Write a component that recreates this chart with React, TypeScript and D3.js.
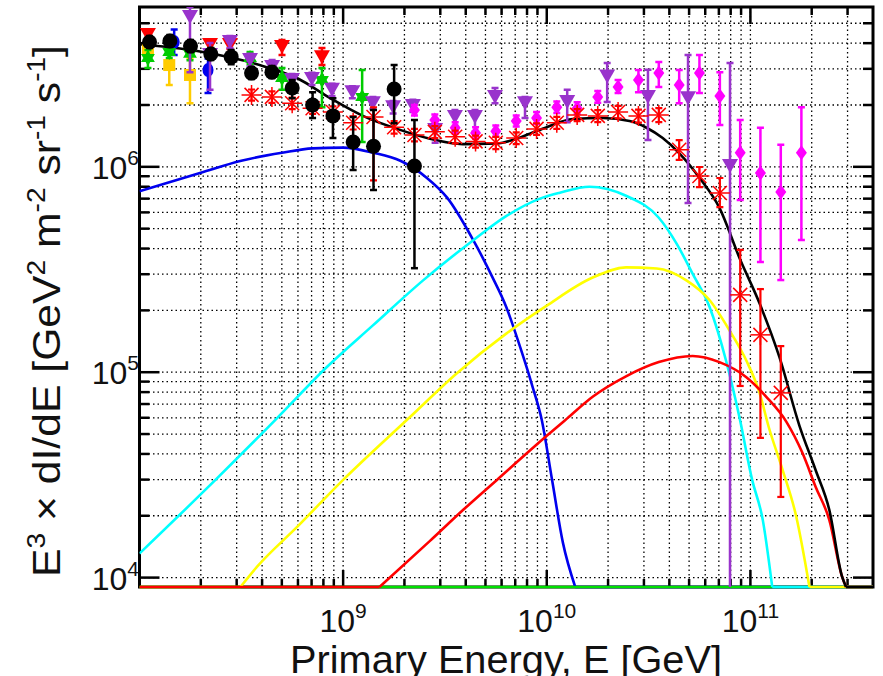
import React from 'react';
import * as d3 from 'd3';

// ---------------- axes ----------------
const xDomain = [1e8, 4e11];
const yDomain = [9e3, 6e6];
const xMajor = [1e9, 1e10, 1e11];
const xMajorExp = ['9', '10', '11'];
const yMajor = [1e4, 1e5, 1e6];
const yMajorExp = ['4', '5', '6'];
const xTitle = 'Primary Energy, E [GeV]';

// ---------------- model curves ----------------
const blueCurveE = [1e8, 2e8, 3.16e8, 5.01e8, 7.08e8, 1e9, 1.41e9, 1.91e9, 2.57e9, 3.24e9, 4.37e9, 5.43e9, 6.31e9, 7.41e9, 8.51e9, 9.44e9, 1.06e10, 1.2e10, 1.38e10, 4e11];
const blueCurveV = [7.6e5, 9.35e5, 1.07e6, 1.17e6, 1.23e6, 1.24e6, 1.17e6, 1.07e6, 8.85e5, 7.08e5, 4.37e5, 2.88e5, 2.09e5, 1.32e5, 8.51e4, 5.89e4, 3.02e4, 1.48e4, 0, 0];

const greenCurveE = [1e8, 4e11];
const greenCurveV = [0, 0];

const cyanCurveE = [1e8, 2.36e8, 4.74e8, 8.32e8, 1.4e9, 2.47e9, 4.34e9, 6.37e9, 9.25e9, 1.16e10, 1.62e10, 2.45e10, 3.55e10, 4.34e10, 5.2e10, 6.31e10, 7.59e10, 8.83e10, 1.02e11, 1.15e11, 1.28e11, 4e11];
const cyanCurveV = [1.31e4, 2.99e4, 5.98e4, 1.06e5, 1.69e5, 2.8e5, 4.38e5, 5.78e5, 7.0e5, 7.48e5, 8.0e5, 7.23e5, 5.65e5, 4.23e5, 3.02e5, 2.07e5, 1.14e5, 6.05e4, 2.99e4, 1.91e4, 0, 0];

const yellowCurveE = [1e8, 3.13e8, 3.78e8, 5.96e8, 1e9, 2.13e9, 3.62e9, 6.37e9, 1e10, 1.68e10, 2.45e10, 3.47e10, 4.85e10, 6.31e10, 7.89e10, 9.55e10, 1.11e11, 1.23e11, 1.44e11, 1.68e11, 1.95e11, 4e11];
const yellowCurveV = [0, 0, 1.13e4, 1.77e4, 2.99e4, 6.05e4, 9.89e4, 1.55e5, 2.11e5, 2.89e5, 3.24e5, 3.2e5, 2.8e5, 2.24e5, 1.6e5, 1.14e5, 7.91e4, 5.41e4, 3.34e4, 1.98e4, 0, 0];

const redCurveE = [1e8, 1.51e9, 2.67e9, 3.89e9, 5.69e9, 1e10, 1.26e10, 1.68e10, 2.45e10, 3.55e10, 5.2e10, 7.05e10, 9.55e10, 1.2e11, 1.5e11, 1.8e11, 2.09e11, 2.44e11, 2.82e11, 2.95e11, 4e11];
const redCurveV = [0, 0, 1.51e4, 2.14e4, 2.99e4, 4.9e4, 5.96e4, 7.59e4, 9.55e4, 1.12e5, 1.2e5, 1.12e5, 9.46e4, 7.57e4, 5.75e4, 4.05e4, 2.77e4, 1.91e4, 1.01e4, 0, 0];

const totalCurveE = [1e8, 1.92e8, 4.06e8, 5.96e8, 8.63e8, 1.25e9, 1.84e9, 2.67e9, 3.87e9, 5.69e9, 6.81e9, 8.26e9, 1e10, 1.34e10, 1.88e10, 2.55e10, 3.09e10, 3.71e10, 4.49e10, 5.62e10, 7.05e10, 8.83e10, 1.11e11, 1.39e11, 1.74e11, 2.09e11, 2.44e11, 2.82e11, 2.95e11, 4e11];
const totalCurveV = [3.95e6, 3.66e6, 3.09e6, 2.7e6, 2.16e6, 1.77e6, 1.53e6, 1.37e6, 1.29e6, 1.3e6, 1.35e6, 1.45e6, 1.56e6, 1.71e6, 1.73e6, 1.67e6, 1.55e6, 1.38e6, 1.16e6, 8.85e5, 6.31e5, 3.61e5, 2.16e5, 1.18e5, 5.5e4, 3.34e4, 2.14e4, 1.01e4, 0, 0];

// ---------------- measured points ----------------
const goldE = [1.1e8, 1.4e8, 1.77e8];
const goldV = [3.7e6, 3.13e6, 2.8e6];
const goldHi = [3.92e6, 3.7e6, 3.37e6];
const goldLo = [3.43e6, 2.5e6, 2.04e6];

const bluePtE = [1.48e8, 2.17e8];
const bluePtV = [4.05e6, 2.96e6];
const bluePtHi = [4.66e6, 3.37e6];
const bluePtLo = [3.5e6, 2.29e6];

const greenPtE = [1.1e8, 1.4e8, 1.77e8, 3.49e8, 5.01e8, 7.87e8, 1.24e9];
const greenPtV = [3.39e6, 3.62e6, 3.55e6, 3.39e6, 2.71e6, 2.65e6, 2.19e6];
const greenPtHi = [3.7e6, 3.92e6, 3.8e6, 3.62e6, 3.03e6, 3.03e6, 2.96e6];
const greenPtLo = [3.03e6, 3.39e6, 3.3e6, 3.16e6, 2.37e6, 1.95e6, 1.32e6];

const redTriE = [1.1e8, 2.22e8, 2.78e8, 5.01e8, 7.87e8];
const redTriV = [4.38e6, 3.92e6, 3.92e6, 3.83e6, 3.42e6];
const redTriHi = [4.6e6, 4.14e6, 4.1e6, 4.14e6, 3.79e6];
const redTriLo = [4.15e6, 3.7e6, 3.75e6, 3.5e6, 3.13e6];

const purpleE = [1.77e8, 2.22e8, 2.78e8, 3.49e8, 4.48e8, 5.61e8, 7.03e8, 8.82e8, 1.11e9, 1.4e9, 1.76e9, 2.2e9, 2.83e9, 3.54e9, 4.44e9, 5.57e9, 7.82e9, 1.26e10, 1.98e10, 3.14e10, 4.94e10, 7.94e10];
const purpleV = [5.36e6, 3.5e6, 4.05e6, 3.31e6, 3.06e6, 2.65e6, 2.68e6, 2.37e6, 2.31e6, 2.04e6, 1.95e6, 1.98e6, 1.51e6, 1.75e6, 1.75e6, 2.19e6, 2.04e6, 2.07e6, 2.75e6, 2.19e6, 2.16e6, 1.01e6];
const purpleHi = [6.5e6, 4.01e6, 4.33e6, 3.55e6, 3.31e6, 2.83e6, 2.87e6, 2.54e6, 2.47e6, 2.19e6, 2.09e6, 2.12e6, 1.69e6, 1.89e6, 1.89e6, 2.42e6, 2.19e6, 2.37e6, 3.2e6, 2.97e6, 3.5e6, 3.2e6];
const purpleLo = [2.89e6, 2.37e6, 3.79e6, 3.08e6, 2.86e6, 2.47e6, 2.5e6, 2.21e6, 2.16e6, 1.91e6, 1.82e6, 1.85e6, 1.31e6, 1.48e6, 1.48e6, 2.04e6, 1.73e6, 1.65e6, 2.07e6, 1.35e6, 6.66e5, 0];

const magE = [2.24e9, 2.82e9, 3.55e9, 4.47e9, 5.62e9, 7.08e9, 8.91e9, 1.12e10, 1.41e10, 1.78e10, 2.24e10, 2.82e10, 3.55e10, 4.47e10, 5.62e10, 7.08e10, 8.91e10, 1.12e11, 1.41e11, 1.78e11];
const magV = [1.89e6, 1.69e6, 1.55e6, 1.46e6, 1.49e6, 1.67e6, 1.73e6, 1.95e6, 1.93e6, 2.19e6, 2.45e6, 2.65e6, 2.86e6, 2.5e6, 2.86e6, 2.21e6, 1.17e6, 9.33e5, 7.54e5, 1.17e6];
const magHi = [2.0e6, 1.8e6, 1.65e6, 1.56e6, 1.59e6, 1.78e6, 1.85e6, 2.08e6, 2.06e6, 2.34e6, 2.65e6, 2.96e6, 3.24e6, 2.96e6, 3.5e6, 2.89e6, 1.69e6, 1.55e6, 1.28e6, 1.95e6];
const magLo = [1.78e6, 1.59e6, 1.45e6, 1.37e6, 1.4e6, 1.57e6, 1.62e6, 1.83e6, 1.81e6, 2.05e6, 2.29e6, 2.31e6, 2.45e6, 2.04e6, 2.29e6, 1.6e6, 6.89e5, 3.44e5, 2.81e5, 4.4e5];

const starE = [3.55e8, 4.47e8, 5.62e8, 7.08e8, 8.91e8, 1.12e9, 1.41e9, 1.78e9, 2.24e9, 2.82e9, 3.55e9, 4.47e9, 5.62e9, 7.08e9, 8.91e9, 1.12e10, 1.41e10, 1.78e10, 2.24e10, 2.82e10, 3.55e10, 4.47e10, 5.62e10, 7.08e10, 8.91e10, 1.12e11, 1.41e11];
const starV = [2.24e6, 2.19e6, 2.04e6, 1.93e6, 1.85e6, 1.64e6, 1.75e6, 1.56e6, 1.43e6, 1.48e6, 1.4e6, 1.33e6, 1.31e6, 1.38e6, 1.53e6, 1.64e6, 1.79e6, 1.77e6, 1.85e6, 1.77e6, 1.79e6, 1.21e6, 9.02e5, 7.46e5, 2.38e5, 1.52e5, 7.93e4];
const starHi = [2.38e6, 2.33e6, 2.17e6, 2.05e6, 1.97e6, 1.76e6, 1.95e6, 1.67e6, 1.53e6, 1.58e6, 1.5e6, 1.42e6, 1.4e6, 1.47e6, 1.63e6, 1.75e6, 1.91e6, 1.89e6, 1.98e6, 1.9e6, 1.93e6, 1.35e6, 9.98e5, 8.82e5, 3.94e5, 2.54e5, 1.34e5];
const starLo = [2.1e6, 2.05e6, 1.91e6, 1.81e6, 1.73e6, 1.52e6, 8.6e5, 1.45e6, 1.33e6, 1.38e6, 1.3e6, 1.24e6, 1.22e6, 1.29e6, 1.43e6, 1.53e6, 1.67e6, 1.65e6, 1.72e6, 1.64e6, 1.65e6, 1.08e6, 7.96e5, 6.37e5, 8.57e4, 4.79e4, 2.47e4];

const blackE = [1.12e8, 1.41e8, 1.78e8, 2.24e8, 2.82e8, 3.55e8, 4.47e8, 5.62e8, 7.08e8, 8.91e8, 1.12e9, 1.41e9, 1.78e9, 2.24e9];
const blackV = [4.05e6, 4.1e6, 3.87e6, 3.54e6, 3.43e6, 2.86e6, 2.89e6, 2.42e6, 2.0e6, 1.77e6, 1.32e6, 1.26e6, 2.39e6, 1.01e6];
const blackHi = [4.34e6, 4.38e6, 4.14e6, 3.79e6, 3.7e6, 3.06e6, 3.1e6, 2.65e6, 2.31e6, 2.16e6, 1.75e6, 1.89e6, 3.13e6, 1.69e6];
const blackLo = [3.79e6, 3.83e6, 3.62e6, 3.31e6, 3.16e6, 2.68e6, 2.71e6, 2.16e6, 1.73e6, 1.38e6, 9.65e5, 7.71e5, 1.63e6, 3.21e5];

// ---------------- layout ----------------
const W = 883, H = 676;
const L = 139.5, R = 873, T = 7, B = 587;
const FONT = "Arial, 'Liberation Sans', Helvetica, sans-serif";

const PURPLE = '#9933CC';
const MAGENTA = '#FF00FF';
const GREEN_PT = '#00CC00';
const GOLD = '#FFCC00';

function minorVals(domain: number[]) {
  const out: number[] = [];
  const d0 = Math.floor(Math.log10(domain[0]));
  const d1 = Math.ceil(Math.log10(domain[1]));
  for (let d = d0; d <= d1; d++) {
    for (let m = 1; m <= 9; m++) {
      const v = m * Math.pow(10, d);
      if (v > domain[0] * 1.0001 && v < domain[1] * 0.9999) out.push(v);
    }
  }
  return out;
}

export default function App() {
  const x = d3.scaleLog().domain(xDomain).range([L, R]);
  const yS = d3.scaleLog().domain(yDomain).range([B, T]).clamp(true);
  const y = (v: number) => (v <= yDomain[0] ? B : yS(v));

  // positive runs are drawn smoothly (including the floor crossing points); floor runs are straight
  const mkPaths = (E: number[], V: number[]) => {
    const paths: string[] = [];
    const smooth = d3.line<number>().x((i) => x(E[i])).y((i) => y(V[i])).curve(d3.curveMonotoneX);
    const straight = d3.line<number>().x((i) => x(E[i])).y((i) => y(V[i]));
    let i = 0;
    const n = E.length;
    while (i < n) {
      if (V[i] > 0) {
        let j = i;
        while (j + 1 < n && V[j + 1] > 0) j++;
        const a = i > 0 ? i - 1 : i;
        const b = j < n - 1 ? j + 1 : j;
        const idx: number[] = [];
        for (let k = a; k <= b; k++) idx.push(k);
        paths.push(smooth(idx) || '');
        i = j + 1;
      } else {
        let j = i;
        while (j + 1 < n && V[j + 1] <= 0) j++;
        if (j > i) paths.push(straight([i, j]) || '');
        i = j + 1;
      }
    }
    return paths;
  };

  const xTicks = minorVals(xDomain);
  const yTicks = minorVals(yDomain);
  const isMajor = (v: number) => Math.abs(Math.log10(v) - Math.round(Math.log10(v))) < 1e-6;

  const curves = [
    { E: blueCurveE, V: blueCurveV, c: '#0000EE' },
    { E: greenCurveE, V: greenCurveV, c: '#00E000' },
    { E: cyanCurveE, V: cyanCurveV, c: '#00FFFF' },
    { E: yellowCurveE, V: yellowCurveV, c: '#FFFF00' },
    { E: redCurveE, V: redCurveV, c: '#FF0000' },
    { E: totalCurveE, V: totalCurveV, c: '#000000' },
  ];

  const errBars = (E: number[], Hi: number[], Lo: number[], color: string, cap: number, sw: number, key: string) =>
    E.map((e, i) => {
      const cx = x(e);
      const y1 = y(Hi[i]);
      const y2 = y(Lo[i]);
      return (
        <g key={key + i} stroke={color} strokeWidth={sw}>
          <line x1={cx} x2={cx} y1={y1} y2={y2} />
          <line x1={cx - cap} x2={cx + cap} y1={y1} y2={y1} />
          {Lo[i] > yDomain[0] ? <line x1={cx - cap} x2={cx + cap} y1={y2} y2={y2} /> : null}
        </g>
      );
    });

  const triDown = 'M-8,-7L8,-7L0,7Z';
  const diamond = 'M0,-7.5L5.5,0L0,7.5L-5.5,0Z';
  const hexagram = (() => {
    const pts: string[] = [];
    for (let k = 0; k < 12; k++) {
      const r = k % 2 === 0 ? 8 : 4.6;
      const a = (Math.PI / 6) * k - Math.PI / 2;
      pts.push(`${(r * Math.cos(a)).toFixed(2)},${(r * Math.sin(a)).toFixed(2)}`);
    }
    return 'M' + pts.join('L') + 'Z';
  })();

  return (
    <svg width={W} height={H} viewBox={`0 0 ${W} ${H}`} style={{ position: 'absolute', left: 0, top: 0, background: '#fff' }} fontFamily={FONT}>
      <defs>
        <clipPath id="plotClip">
          <rect x={L} y={T} width={R - L} height={B - T + 2.5} />
        </clipPath>
      </defs>
      <rect x={0} y={0} width={W} height={H} fill="#fff" />

      {/* grid */}
      <g stroke="#000" strokeWidth={1.3} strokeDasharray="1.5 3">
        {xTicks.map((v) => (
          <line key={'gx' + v} x1={x(v)} x2={x(v)} y1={T} y2={B} />
        ))}
        {yTicks.map((v) => (
          <line key={'gy' + v} x1={L} x2={R} y1={y(v)} y2={y(v)} />
        ))}
      </g>

      {/* frame and ticks */}
      <g stroke="#000" strokeWidth={2.5}>
        {xTicks.map((v) => {
          const len = isMajor(v) ? 17 : 8;
          return (
            <g key={'tx' + v}>
              <line x1={x(v)} x2={x(v)} y1={B} y2={B - len} />
              <line x1={x(v)} x2={x(v)} y1={T} y2={T + len} />
            </g>
          );
        })}
        {yTicks.map((v) => {
          const len = isMajor(v) ? 20 : 10;
          return (
            <g key={'ty' + v}>
              <line x1={L} x2={L + len} y1={y(v)} y2={y(v)} />
              <line x1={R} x2={R - len} y1={y(v)} y2={y(v)} />
            </g>
          );
        })}
      </g>
      <rect x={L} y={T} width={R - L} height={B - T} fill="none" stroke="#000" strokeWidth={3} />

      <g clipPath="url(#plotClip)">
        {/* model curves */}
        {curves.map((c, i) =>
          mkPaths(c.E, c.V).map((d, k) => (
            <path key={'c' + i + '_' + k} d={d} fill="none" stroke={c.c} strokeWidth={2.6} strokeLinejoin="round" />
          ))
        )}

        {/* gold squares */}
        {errBars(goldE, goldHi, goldLo, GOLD, 3.5, 2.5, 'ge')}
        {goldE.map((e, i) => (
          <rect key={'gs' + i} x={x(e) - 6} y={y(goldV[i]) - 6} width={12} height={12} fill={GOLD} />
        ))}

        {/* blue points */}
        {errBars(bluePtE, bluePtHi, bluePtLo, '#0000EE', 3.5, 2.5, 'be')}
        {bluePtE.map((e, i) => (
          <ellipse key={'bp' + i} cx={x(e)} cy={y(bluePtV[i])} rx={5.5} ry={7} fill="#0000EE" />
        ))}

        {/* green stars */}
        {errBars(greenPtE, greenPtHi, greenPtLo, GREEN_PT, 3.5, 2.5, 'gre')}
        {greenPtE.map((e, i) => (
          <path key={'gp' + i} d={hexagram} transform={`translate(${x(e)},${y(greenPtV[i])})`} fill={GREEN_PT} />
        ))}

        {/* red triangles */}
        {errBars(redTriE, redTriHi, redTriLo, '#FF0000', 3.5, 2.5, 'rte')}
        {redTriE.map((e, i) => (
          <path key={'rt' + i} d={triDown} transform={`translate(${x(e)},${y(redTriV[i])})`} fill="#FF0000" />
        ))}

        {/* purple triangles */}
        {errBars(purpleE, purpleHi, purpleLo, PURPLE, 3.5, 2.5, 'pe')}
        {purpleE.map((e, i) => (
          <path key={'pt' + i} d={triDown} transform={`translate(${x(e)},${y(purpleV[i])})`} fill={PURPLE} />
        ))}

        {/* magenta diamonds */}
        {errBars(magE, magHi, magLo, MAGENTA, 3.5, 2.5, 'me')}
        {magE.map((e, i) => (
          <path key={'md' + i} d={diamond} transform={`translate(${x(e)},${y(magV[i])})`} fill={MAGENTA} />
        ))}

        {/* red asterisks */}
        {errBars(starE, starHi, starLo, '#FF0000', 3.5, 2.2, 'se')}
        {starE.map((e, i) => (
          <g key={'st' + i} transform={`translate(${x(e)},${y(starV[i])})`} stroke="#FF0000" strokeWidth={1.5}>
            <line x1={-10} x2={10} y1={0} y2={0} />
            <line x1={0} x2={0} y1={-10} y2={10} />
            <line x1={-7} x2={7} y1={-7} y2={7} />
            <line x1={-7} x2={7} y1={7} y2={-7} />
          </g>
        ))}

        {/* black circles */}
        {errBars(blackE, blackHi, blackLo, '#000', 3.5, 2.5, 'ke')}
        {blackE.map((e, i) => (
          <circle key={'kc' + i} cx={x(e)} cy={y(blackV[i])} r={7.5} fill="#000" />
        ))}
      </g>

      {/* tick labels */}
      <g fill="#111">
        {xMajor.map((v, i) => (
          <text key={'xl' + i} x={x(v)} y={632} textAnchor="middle" fontSize={32}>
            10
            <tspan dy={-14} fontSize={21}>
              {xMajorExp[i]}
            </tspan>
          </text>
        ))}
        {yMajor.map((v, i) => (
          <text key={'yl' + i} x={139} y={y(v) + 12} textAnchor="end" fontSize={32}>
            10
            <tspan dy={-14} fontSize={21}>
              {yMajorExp[i]}
            </tspan>
          </text>
        ))}
      </g>

      {/* axis titles */}
      <text x={506} y={673} textAnchor="middle" fontSize={39} fill="#111" textLength={432} lengthAdjust="spacingAndGlyphs">
        {xTitle}
      </text>
      <text transform="translate(60,311) rotate(-90)" textAnchor="middle" fontSize={38} fill="#111" textLength={532} lengthAdjust="spacingAndGlyphs">
        E<tspan dy={-15} fontSize={25}>3</tspan>
        <tspan dy={15}> × dI/dE [GeV</tspan>
        <tspan dy={-15} fontSize={25}>2</tspan>
        <tspan dy={15}> m</tspan>
        <tspan dy={-15} fontSize={25}>-2</tspan>
        <tspan dy={15}> sr</tspan>
        <tspan dy={-15} fontSize={25}>-1</tspan>
        <tspan dy={15}> s</tspan>
        <tspan dy={-15} fontSize={25}>-1</tspan>
        <tspan dy={15}>]</tspan>
      </text>
    </svg>
  );
}
